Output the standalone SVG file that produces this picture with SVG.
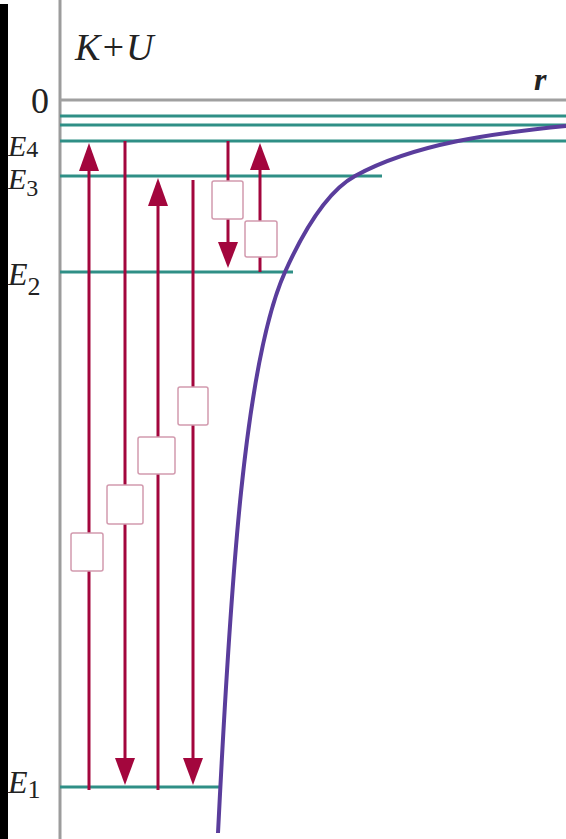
<svg xmlns="http://www.w3.org/2000/svg" width="566" height="839" viewBox="0 0 566 839">
<defs>
<style>
.lvl{stroke:#2f8f86;stroke-width:3;fill:none}
.arr{stroke:#a3063d;stroke-width:3;fill:none}
.head{fill:#a3063d}
.box{fill:#fff;stroke:#d29aae;stroke-width:1.5}
.lbl{font-family:"Liberation Serif","Times New Roman",serif;fill:#222}
.it{font-style:italic}
</style>
</defs>
<rect width="566" height="839" fill="#fff"/>
<rect x="0" y="4" width="8" height="835" fill="#000"/>
<g id="axes">
<line x1="60" y1="0" x2="60" y2="839" stroke="#9c9c9c" stroke-width="3"/>
<line x1="60" y1="100" x2="566" y2="100" stroke="#a0a0a0" stroke-width="3"/>
</g>
<g id="levels">
<line class="lvl" x1="60" y1="116" x2="566" y2="116"/>
<line class="lvl" x1="60" y1="125" x2="566" y2="125"/>
<line class="lvl" x1="60" y1="141" x2="566" y2="141"/>
<line class="lvl" x1="60" y1="176" x2="382" y2="176"/>
<line class="lvl" x1="60" y1="272" x2="293" y2="272"/>
<line class="lvl" x1="60" y1="787" x2="220" y2="787"/>
</g>
<g id="curve">
<path d="M218,833 C230.5,583 244.5,362 285,272 C300.75,237 325,192.5 355,176 C415,143 496,133 566,126" fill="none" stroke="#5a3d9c" stroke-width="4"/>
</g>
<g id="connectors">
<line class="arr" x1="89" y1="790" x2="89" y2="160"/>
<polygon class="head" points="89,143 79,171 99,171"/>
<line class="arr" x1="125" y1="141" x2="125" y2="770"/>
<polygon class="head" points="125,785 115,758 135,758"/>
<line class="arr" x1="158" y1="790" x2="158" y2="195"/>
<polygon class="head" points="158,178 148,206 168,206"/>
<line class="arr" x1="193" y1="180" x2="193" y2="770"/>
<polygon class="head" points="193,785 183,758 203,758"/>
<line class="arr" x1="228" y1="141" x2="228" y2="252"/>
<polygon class="head" points="228,268 218,242 238,242"/>
<line class="arr" x1="260" y1="272" x2="260" y2="160"/>
<polygon class="head" points="260,143 250,170 270,170"/>
</g>
<g id="boxes">
<rect id="boxA" class="box" x="71" y="533" width="32" height="38" rx="2"/>
<rect id="boxB" class="box" x="107" y="485" width="36" height="39" rx="2"/>
<rect id="boxC" class="box" x="138" y="437" width="37" height="37" rx="2"/>
<rect id="boxD" class="box" x="178" y="387" width="30" height="38" rx="2"/>
<rect id="boxE" class="box" x="212" y="181" width="31" height="38" rx="2"/>
<rect id="boxF" class="box" x="245" y="221" width="32" height="36" rx="2"/>
</g>
<g id="labels">
<text class="lbl it" x="75" y="60" font-size="38">K+U</text>
<text class="lbl" x="31" y="113" font-size="36">0</text>
<text class="lbl it" x="534" y="90" font-size="32" font-weight="bold">r</text>
<text class="lbl" x="8" y="156" font-size="30"><tspan class="it">E</tspan><tspan font-size="24" dy="1">4</tspan></text>
<text class="lbl" x="8" y="189" font-size="30"><tspan class="it">E</tspan><tspan font-size="24" dy="7">3</tspan></text>
<text class="lbl" x="8" y="285" font-size="32"><tspan class="it">E</tspan><tspan font-size="26" dy="10">2</tspan></text>
<text class="lbl" x="8" y="793" font-size="32"><tspan class="it">E</tspan><tspan font-size="26" dy="5">1</tspan></text>
</g>
</svg>
